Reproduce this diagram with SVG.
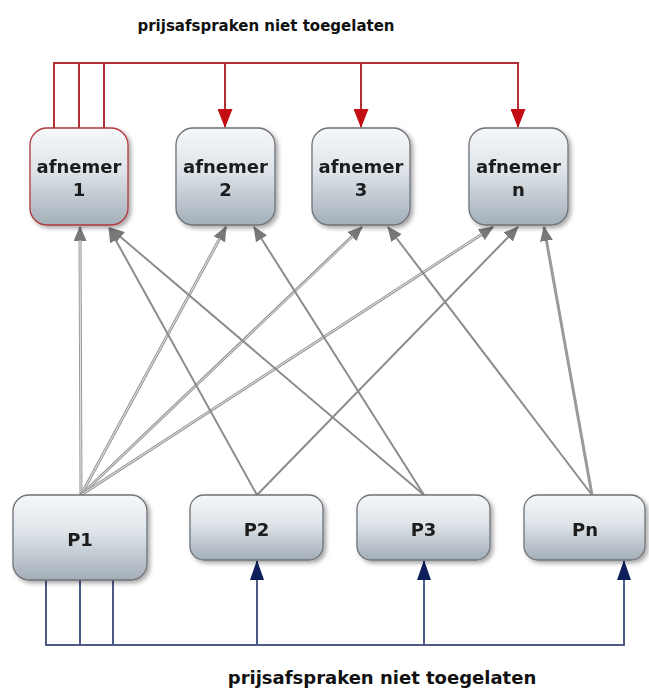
<svg xmlns="http://www.w3.org/2000/svg" width="649" height="688" viewBox="0 0 649 688">
<style>
.box{stroke:#6f7378;stroke-width:1.3;fill:url(#g)}
.red{stroke:#b3373c}
.lbl{font-family:"DejaVu Sans",Verdana,sans-serif;font-weight:bold;font-size:18px;fill:#1a1a1a;text-anchor:middle}
.ttl{font-family:"DejaVu Sans",Verdana,sans-serif;font-weight:bold;fill:#111;text-anchor:middle}
.gl{stroke:#8c8c8c;stroke-width:2;fill:none}
.gd{stroke:#9a9a9a;stroke-width:3;fill:none}
.gi{stroke:#e6e6e6;stroke-width:1;fill:none}
.rl{stroke:#b03036;stroke-width:2;fill:none}
.bl{stroke:#4d5a86;stroke-width:2;fill:none}
</style>
<defs>
<linearGradient id="g" x1="0" y1="0" x2="0" y2="1">
<stop offset="0" stop-color="#f6f8fa"/>
<stop offset="0.45" stop-color="#dde3e8"/>
<stop offset="1" stop-color="#a3aeb8"/>
</linearGradient>
<filter id="sh" x="-10%" y="-10%" width="130%" height="130%">
<feDropShadow dx="2.5" dy="2.5" stdDeviation="2" flood-color="#000" flood-opacity="0.35"/>
</filter>
<marker id="ag" viewBox="0 0 15 13" refX="14" refY="6.5" markerWidth="15" markerHeight="13" orient="auto" markerUnits="userSpaceOnUse">
<path d="M0,0 L15,6.5 L0,13 z" fill="#787878"/>
</marker>
<marker id="ar" viewBox="0 0 19 15" refX="18" refY="7.5" markerWidth="19" markerHeight="15" orient="auto" markerUnits="userSpaceOnUse">
<path d="M0,0 L19,7.5 L0,15 z" fill="#c40d12"/>
</marker>
<marker id="ab" viewBox="0 0 20 14" refX="19" refY="7" markerWidth="20" markerHeight="14" orient="auto" markerUnits="userSpaceOnUse">
<path d="M0,0 L20,7 L0,14 z" fill="#0f1f5c"/>
</marker>
</defs>
<rect width="649" height="688" fill="#fff"/>

<text class="ttl" x="266" y="31" font-size="15">prijsafspraken niet toegelaten</text>
<text class="ttl" x="382" y="684" font-size="18">prijsafspraken niet toegelaten</text>

<g id="connectors">
<!-- red: afnemer 1 to others -->
<path class="rl" d="M54,128 V63 H225 V127" marker-end="url(#ar)"/>
<path class="rl" d="M79,128 V63 H361 V127" marker-end="url(#ar)"/>
<path class="rl" d="M104,128 V63 H518 V127" marker-end="url(#ar)"/>
<!-- blue: P1 to others -->
<path class="bl" d="M46,580 V645 H257 V561" marker-end="url(#ab)"/>
<path class="bl" d="M80,580 V645 H424 V561" marker-end="url(#ab)"/>
<path class="bl" d="M113,580 V645 H624 V561" marker-end="url(#ab)"/>
<!-- gray: P to afnemer -->
<path class="gd" d="M81,495 L80,227" marker-end="url(#ag)"/>
<path class="gi" d="M81,495 L80,240"/>
<path class="gd" d="M81,495 L226,227" marker-end="url(#ag)"/>
<path class="gi" d="M81,495 L220,238"/>
<path class="gd" d="M81,495 L362,227" marker-end="url(#ag)"/>
<path class="gi" d="M81,495 L353,236"/>
<path class="gd" d="M81,495 L493,227" marker-end="url(#ag)"/>
<path class="gi" d="M81,495 L482,234"/>
<path class="gl" d="M257,495 L109,228" marker-end="url(#ag)"/>
<path class="gl" d="M257,495 L518,227" marker-end="url(#ag)"/>
<path class="gl" d="M424,495 L110,228" marker-end="url(#ag)"/>
<path class="gl" d="M424,495 L254,227" marker-end="url(#ag)"/>
<path class="gl" d="M592,495 L388,227" marker-end="url(#ag)"/>
<path class="gd" d="M592,495 L544,227" marker-end="url(#ag)"/>
</g>

<g id="afnemer1" filter="url(#sh)">
<rect class="box red" x="30" y="128" width="98" height="97" rx="17"/>
<text class="lbl" x="79" y="173">afnemer</text>
<text class="lbl" x="79" y="196">1</text>
</g>
<g id="afnemer2" filter="url(#sh)">
<rect class="box" x="176" y="128" width="99" height="97" rx="17"/>
<text class="lbl" x="225.5" y="173">afnemer</text>
<text class="lbl" x="225.5" y="196">2</text>
</g>
<g id="afnemer3" filter="url(#sh)">
<rect class="box" x="312" y="128" width="98" height="97" rx="17"/>
<text class="lbl" x="361" y="173">afnemer</text>
<text class="lbl" x="361" y="196">3</text>
</g>
<g id="afnemern" filter="url(#sh)">
<rect class="box" x="469" y="128" width="99" height="97" rx="17"/>
<text class="lbl" x="518.5" y="173">afnemer</text>
<text class="lbl" x="518.5" y="196">n</text>
</g>

<g id="P1" filter="url(#sh)">
<rect class="box" x="13" y="495" width="134" height="85" rx="16"/>
<text class="lbl" x="80" y="546">P1</text>
</g>
<g id="P2" filter="url(#sh)">
<rect class="box" x="190" y="495" width="133" height="65" rx="14"/>
<text class="lbl" x="256.5" y="536">P2</text>
</g>
<g id="P3" filter="url(#sh)">
<rect class="box" x="357" y="495" width="133" height="65" rx="14"/>
<text class="lbl" x="423.5" y="536">P3</text>
</g>
<g id="Pn" filter="url(#sh)">
<rect class="box" x="524" y="495" width="121" height="65" rx="14"/>
<text class="lbl" x="585" y="536">Pn</text>
</g>
</svg>
